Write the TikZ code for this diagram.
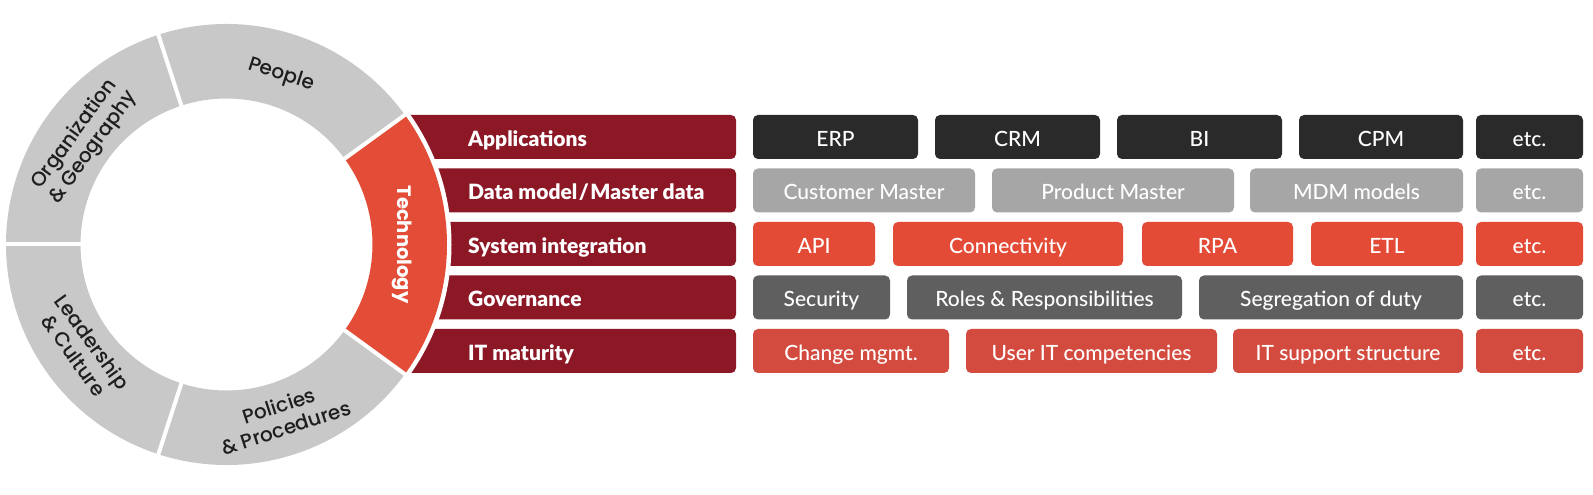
\documentclass[tikz,border=0pt]{standalone}
\usepackage{fontspec}
\setmainfont{Lato}[UprightFont={* Medium}, BoldFont={* Black}]
\newfontfamily\ringfont{Poppins}[UprightFont={* Medium}, BoldFont={* Bold}]
\definecolor{barred}{HTML}{8C1826}
\definecolor{techred}{HTML}{E34D37}
\definecolor{rowa}{HTML}{2A2A2A}
\definecolor{rowb}{HTML}{A6A6A6}
\definecolor{rowc}{HTML}{E34B37}
\definecolor{rowd}{HTML}{5F5F5F}
\definecolor{rowe}{HTML}{D34A3E}
\definecolor{ringgray}{HTML}{C8C8C8}
\definecolor{ringtext}{HTML}{1E1E1E}
\begin{document}
\begin{tikzpicture}[x=1pt,y=1pt,
  box/.style={rounded corners=5pt, minimum height=44pt, inner sep=0pt, text=white,
    text height=20pt, text depth=1pt, font=\fontsize{21}{24}\selectfont},
  bar/.style={fill=barred, rounded corners=5pt, minimum height=44pt, minimum width=356pt, inner sep=0pt},
  lab/.style={anchor=west, text=white, inner sep=0pt, text height=20pt, text depth=1pt,
    font=\fontsize{21}{24}\selectfont\bfseries},
  ringlab/.style={text=ringtext, align=center, inner sep=0pt, font=\ringfont\fontsize{20}{23}\selectfont}
]
\useasboundingbox (0,0) rectangle (1593,495);
\fill[white] (0,0) rectangle (1593,495);

% red bars
\node[bar] (b1) at (558,358) {};
\node[bar] (b2) at (558,304.5) {};
\node[bar] (b3) at (558,251) {};
\node[bar] (b4) at (558,197.5) {};
\node[bar] (b5) at (558,144) {};

% white gap disk and ring
\fill[white] (226.5,250.5) circle[radius=225];
\begin{scope}[shift={(226.5,250.5)}]
  \foreach \a/\c in {-36/techred, 36/ringgray, 108/ringgray, 180/ringgray, 252/ringgray}
    \fill[\c] (\a:146) -- (\a:220.5) arc[start angle=\a, end angle=\a+72, radius=220.5]
      -- ({\a+72}:146) arc[start angle=\a+72, end angle=\a, radius=146] -- cycle;
  \foreach \a in {-36,36,108,180,252}
    \draw[white, line width=4pt] (\a:140) -- (\a:228);
  \node[ringlab, rotate=-18] (people) at (72:178) {People};
  \node[ringlab, rotate=54] (org) at (144:176) {Organization\\\& Geography};
  \node[ringlab, rotate=-54] (lead) at (216:177) {Leadership\\\& Culture};
  \node[ringlab, rotate=18] (pol) at (288:181) {Policies\\\& Procedures};
  \node[rotate=-90, text=white, inner sep=0pt, font=\ringfont\fontsize{19.5}{20}\selectfont\bfseries] (tech) at (0:176) {Technology};
\end{scope}

% row labels
\node[lab] (l1) at (468,358) {Applications};
\node[lab] (l2) at (468,304.5) {Data model\kern1.5pt/\kern1.5pt Master data};
\node[lab] (l3) at (468,251) {System integration};
\node[lab] (l4) at (468,197.5) {Governance};
\node[lab] (l5) at (468,144) {IT maturity};

% row 1
\node[box, fill=rowa, minimum width=165pt] (erp) at (835.5,358) {ERP};
\node[box, fill=rowa, minimum width=165pt] (crm) at (1017.5,358) {CRM};
\node[box, fill=rowa, minimum width=165pt] (bi) at (1199.5,358) {BI};
\node[box, fill=rowa, minimum width=164pt] (cpm) at (1381,358) {CPM};
\node[box, fill=rowa, minimum width=107pt] (etca) at (1529.5,358) {etc.};
% row 2
\node[box, fill=rowb, minimum width=222pt] (cust) at (864,304.5) {Customer Master};
\node[box, fill=rowb, minimum width=242pt] (prod) at (1113,304.5) {Product Master};
\node[box, fill=rowb, minimum width=213pt] (mdm) at (1356.5,304.5) {MDM models};
\node[box, fill=rowb, minimum width=107pt] (etcb) at (1529.5,304.5) {etc.};
% row 3
\node[box, fill=rowc, minimum width=122pt] (api) at (814,251) {API};
\node[box, fill=rowc, minimum width=230pt] (conn) at (1008,251) {Connectivity};
\node[box, fill=rowc, minimum width=151pt] (rpa) at (1217.5,251) {RPA};
\node[box, fill=rowc, minimum width=152pt] (etl) at (1387,251) {ETL};
\node[box, fill=rowc, minimum width=107pt] (etcc) at (1529.5,251) {etc.};
% row 4
\node[box, fill=rowd, minimum width=137pt] (sec) at (821.5,197.5) {Security};
\node[box, fill=rowd, minimum width=275pt] (roles) at (1044.5,197.5) {Roles \& Responsibilities};
\node[box, fill=rowd, minimum width=264pt] (seg) at (1331,197.5) {Segregation of duty};
\node[box, fill=rowd, minimum width=107pt] (etcd) at (1529.5,197.5) {etc.};
% row 5
\node[box, fill=rowe, minimum width=196pt] (chg) at (851,144) {Change mgmt.};
\node[box, fill=rowe, minimum width=251pt] (user) at (1091.5,144) {User IT competencies};
\node[box, fill=rowe, minimum width=230pt] (sup) at (1348,144) {IT support structure};
\node[box, fill=rowe, minimum width=107pt] (etce) at (1529.5,144) {etc.};
\end{tikzpicture}
\end{document}
